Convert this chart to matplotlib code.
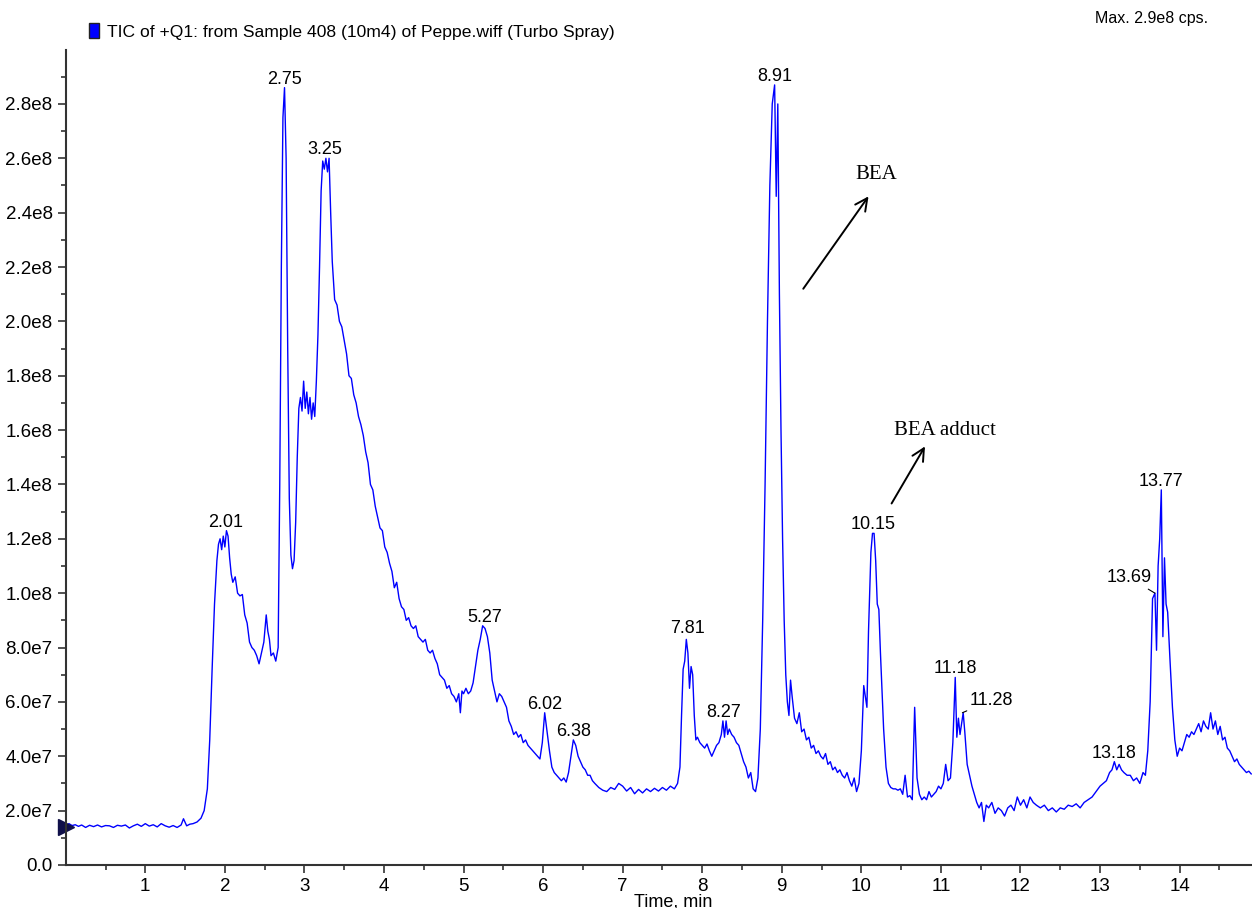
import matplotlib
matplotlib.use("Agg")
import matplotlib.pyplot as plt
from matplotlib.patches import Rectangle

# TIC trace, time in min, intensity in units of 1e7 cps
time_min = [
    0.00, 0.04, 0.08, 0.12, 0.16, 0.20, 0.25, 0.30, 0.35, 0.40, 0.45, 0.50,
    0.55, 0.60, 0.65, 0.70, 0.75, 0.80, 0.85, 0.90, 0.95, 1.00, 1.05, 1.10,
    1.15, 1.20, 1.25, 1.30, 1.35, 1.40, 1.45, 1.48, 1.52, 1.56, 1.60, 1.65,
    1.70, 1.74, 1.78, 1.81, 1.84, 1.87, 1.90, 1.92, 1.94, 1.96, 1.98, 2.00,
    2.02, 2.04, 2.06, 2.08, 2.10, 2.13, 2.16, 2.19, 2.22, 2.25, 2.28, 2.31,
    2.34, 2.37, 2.40, 2.43, 2.46, 2.49, 2.52, 2.54, 2.56, 2.58, 2.61, 2.64,
    2.67, 2.69, 2.71, 2.73, 2.75, 2.77, 2.79, 2.81, 2.83, 2.85, 2.87, 2.89,
    2.91, 2.93, 2.95, 2.97, 2.99, 3.01, 3.03, 3.05, 3.07, 3.09, 3.11, 3.13,
    3.15, 3.17, 3.19, 3.21, 3.23, 3.25, 3.27, 3.29, 3.31, 3.33, 3.35, 3.38,
    3.41, 3.44, 3.47, 3.50, 3.53, 3.56, 3.59, 3.62, 3.65, 3.68, 3.71, 3.74,
    3.77, 3.80, 3.83, 3.86, 3.89, 3.92, 3.95, 3.98, 4.01, 4.04, 4.07, 4.10,
    4.13, 4.16, 4.19, 4.22, 4.25, 4.28, 4.31, 4.34, 4.37, 4.40, 4.43, 4.46,
    4.49, 4.52, 4.55, 4.58, 4.61, 4.64, 4.67, 4.70, 4.73, 4.76, 4.79, 4.82,
    4.85, 4.88, 4.91, 4.94, 4.96, 4.98, 5.00, 5.03, 5.06, 5.09, 5.12, 5.15,
    5.18, 5.21, 5.24, 5.27, 5.30, 5.33, 5.36, 5.39, 5.42, 5.45, 5.48, 5.51,
    5.54, 5.57, 5.60, 5.63, 5.66, 5.69, 5.72, 5.75, 5.78, 5.81, 5.84, 5.87,
    5.90, 5.93, 5.96, 5.99, 6.02, 6.05, 6.08, 6.11, 6.14, 6.17, 6.20, 6.23,
    6.26, 6.29, 6.32, 6.35, 6.38, 6.41, 6.44, 6.47, 6.50, 6.53, 6.56, 6.59,
    6.62, 6.65, 6.70, 6.75, 6.80, 6.85, 6.90, 6.95, 7.00, 7.05, 7.10, 7.15,
    7.20, 7.25, 7.30, 7.35, 7.40, 7.45, 7.50, 7.55, 7.60, 7.65, 7.69, 7.72,
    7.74, 7.76, 7.78, 7.80, 7.82, 7.84, 7.86, 7.88, 7.90, 7.92, 7.94, 7.97,
    8.00, 8.03, 8.06, 8.09, 8.12, 8.15, 8.18, 8.21, 8.24, 8.26, 8.28, 8.30,
    8.32, 8.34, 8.37, 8.40, 8.43, 8.46, 8.49, 8.52, 8.55, 8.58, 8.61, 8.64,
    8.67, 8.70, 8.73, 8.76, 8.79, 8.82, 8.85, 8.88, 8.91, 8.93, 8.95, 8.97,
    8.99, 9.01, 9.03, 9.05, 9.07, 9.09, 9.11, 9.13, 9.16, 9.19, 9.22, 9.25,
    9.28, 9.31, 9.34, 9.37, 9.40, 9.43, 9.46, 9.49, 9.52, 9.55, 9.58, 9.61,
    9.64, 9.67, 9.70, 9.73, 9.76, 9.79, 9.82, 9.85, 9.88, 9.91, 9.94, 9.97,
    10.00, 10.03, 10.05, 10.07, 10.09, 10.12, 10.14, 10.16, 10.18, 10.20,
    10.22, 10.24, 10.26, 10.28, 10.31, 10.34, 10.37, 10.40, 10.43, 10.46,
    10.49, 10.52, 10.55, 10.58, 10.61, 10.64, 10.67, 10.70, 10.73, 10.76,
    10.79, 10.82, 10.85, 10.88, 10.91, 10.94, 10.97, 11.00, 11.03, 11.06,
    11.09, 11.12, 11.15, 11.18, 11.20, 11.22, 11.24, 11.26, 11.28, 11.30,
    11.33, 11.36, 11.39, 11.42, 11.45, 11.48, 11.51, 11.54, 11.57, 11.60,
    11.64, 11.68, 11.72, 11.76, 11.80, 11.84, 11.88, 11.92, 11.96, 12.00,
    12.04, 12.08, 12.12, 12.16, 12.20, 12.25, 12.30, 12.35, 12.40, 12.45,
    12.50, 12.55, 12.60, 12.65, 12.70, 12.75, 12.80, 12.85, 12.90, 12.95,
    13.00, 13.04, 13.08, 13.12, 13.15, 13.18, 13.21, 13.24, 13.27, 13.30,
    13.34, 13.38, 13.42, 13.46, 13.50, 13.54, 13.57, 13.60, 13.63, 13.66,
    13.69, 13.71, 13.73, 13.75, 13.77, 13.79, 13.81, 13.83, 13.85, 13.88,
    13.91, 13.94, 13.97, 14.00, 14.03, 14.06, 14.09, 14.12, 14.15, 14.18,
    14.21, 14.24, 14.27, 14.30, 14.33, 14.36, 14.39, 14.42, 14.45, 14.48,
    14.51, 14.54, 14.57, 14.60, 14.63, 14.66, 14.69, 14.72, 14.75, 14.78,
    14.81, 14.84, 14.87, 14.90,
]
intensity = [
    1.40, 1.52, 1.45, 1.48, 1.42, 1.47, 1.38, 1.46, 1.41, 1.47, 1.40, 1.45,
    1.44, 1.38, 1.46, 1.43, 1.47, 1.36, 1.44, 1.50, 1.42, 1.52, 1.43, 1.48,
    1.40, 1.52, 1.44, 1.39, 1.45, 1.38, 1.47, 1.70, 1.44, 1.50, 1.52, 1.58,
    1.72, 2.00, 2.80, 4.60, 7.20, 9.60, 11.2, 11.8, 12.0, 11.6, 12.1, 11.7,
    12.3, 12.1, 11.3, 10.7, 10.4, 10.6, 10.0, 9.90, 9.95, 9.20, 8.90, 8.20,
    8.00, 7.90, 7.70, 7.40, 7.80, 8.20, 9.20, 8.60, 8.30, 7.70, 7.80, 7.50,
    8.00, 14.0, 22.0, 27.5, 28.6, 26.0, 19.0, 13.5, 11.4, 10.9, 11.2, 12.6,
    15.0, 16.8, 17.2, 16.7, 17.8, 16.8, 17.4, 16.6, 17.2, 16.4, 17.0, 16.5,
    17.8, 19.5, 22.0, 24.8, 25.9, 25.6, 26.0, 25.5, 26.0, 24.0, 22.2, 20.8,
    20.6, 20.0, 19.8, 19.3, 18.8, 18.0, 17.9, 17.3, 17.0, 16.5, 16.2, 15.8,
    15.2, 14.8, 14.0, 13.8, 13.2, 12.8, 12.4, 12.3, 11.7, 11.5, 11.1, 10.8,
    10.2, 10.4, 9.80, 9.50, 9.40, 9.00, 9.10, 8.80, 8.70, 8.80, 8.40, 8.30,
    8.20, 8.30, 7.90, 7.80, 7.90, 7.60, 7.40, 7.00, 6.90, 6.80, 6.50, 6.60,
    6.30, 6.20, 6.00, 6.30, 5.60, 6.40, 6.30, 6.50, 6.30, 6.40, 6.70, 7.30,
    7.90, 8.30, 8.80, 8.70, 8.40, 7.80, 6.80, 6.40, 6.00, 6.30, 6.20, 6.00,
    5.80, 5.30, 5.10, 4.80, 4.90, 4.70, 4.80, 4.50, 4.60, 4.40, 4.30, 4.20,
    4.10, 4.00, 3.90, 4.50, 5.60, 4.90, 4.20, 3.60, 3.40, 3.30, 3.20, 3.10,
    3.20, 3.05, 3.40, 4.00, 4.60, 4.40, 4.00, 3.80, 3.60, 3.50, 3.30, 3.30,
    3.10, 3.00, 2.85, 2.75, 2.70, 2.85, 2.78, 3.00, 2.90, 2.72, 2.85, 2.62,
    2.78, 2.65, 2.80, 2.70, 2.82, 2.72, 2.85, 2.75, 2.90, 2.80, 3.00, 3.60,
    5.50, 7.20, 7.50, 8.30, 7.80, 6.50, 7.30, 7.00, 5.50, 4.60, 4.70, 4.50,
    4.40, 4.30, 4.45, 4.20, 4.00, 4.20, 4.40, 4.50, 4.80, 5.30, 4.70, 5.30,
    4.80, 5.00, 4.80, 4.70, 4.50, 4.40, 4.10, 3.80, 3.60, 3.20, 3.40, 2.80,
    2.70, 3.20, 5.00, 9.00, 14.0, 20.0, 25.0, 28.0, 28.7, 24.6, 28.0, 21.0,
    16.0, 12.0, 9.00, 7.00, 6.00, 5.50, 6.80, 6.20, 5.40, 5.20, 5.60, 4.90,
    5.00, 4.60, 4.70, 4.30, 4.40, 4.10, 4.20, 4.00, 3.90, 4.10, 3.70, 3.80,
    3.50, 3.60, 3.40, 3.50, 3.30, 3.20, 3.40, 3.10, 2.90, 3.20, 2.70, 3.00,
    4.20, 6.60, 6.20, 5.80, 8.60, 11.5, 12.2, 12.2, 11.2, 9.60,
    9.40, 7.80, 6.40, 5.00, 3.60, 3.00, 2.85, 2.80, 2.80, 2.75,
    2.80, 2.60, 3.30, 2.50, 2.55, 2.40, 5.80, 3.20, 2.60, 2.40,
    2.50, 2.40, 2.70, 2.50, 2.60, 2.70, 2.90, 2.80, 3.00, 3.70,
    3.10, 3.20, 4.50, 6.90, 4.70, 5.40, 4.80, 5.20, 5.60, 4.90,
    3.70, 3.30, 2.90, 2.60, 2.30, 2.10, 2.30, 1.60, 2.20, 2.10,
    2.30, 1.90, 2.10, 2.00, 1.80, 2.10, 2.20, 2.00, 2.50, 2.20,
    2.40, 2.10, 2.50, 2.30, 2.20, 2.10, 2.20, 2.00, 2.10, 1.95,
    2.10, 2.05, 2.20, 2.15, 2.25, 2.10, 2.30, 2.40, 2.50, 2.70,
    2.90, 3.00, 3.10, 3.40, 3.50, 3.80, 3.50, 3.70, 3.50, 3.40,
    3.30, 3.30, 3.10, 3.20, 3.00, 3.40, 3.30, 4.20, 6.00, 9.80,
    10.0, 7.90, 11.0, 12.0, 13.8, 8.40, 11.3, 9.60, 9.30, 7.50,
    5.80, 4.60, 4.00, 4.30, 4.20, 4.50, 4.80, 4.70, 4.90, 4.80,
    5.00, 5.20, 4.90, 5.30, 5.10, 5.00, 5.60, 5.00, 5.30, 4.80,
    5.10, 4.60, 4.70, 4.30, 4.20, 4.00, 3.80, 3.90, 3.70, 3.60,
    3.50, 3.40, 3.45, 3.35,
]
scale = 1e7

peak_labels = ["2.01", "2.75", "3.25", "5.27", "6.02", "6.38", "7.81", "8.27",
               "8.91", "10.15", "11.18", "13.18", "13.77"]
peak_tops = [12.3, 28.6, 26.0, 8.8, 5.6, 4.6, 8.4, 5.3, 28.7, 12.2, 6.9, 3.8, 13.8]

ytick_vals = [0, 2, 4, 6, 8, 10, 12, 14, 16, 18, 20, 22, 24, 26, 28]
ytick_labels = ["0.0", "2.0e7", "4.0e7", "6.0e7", "8.0e7", "1.0e8", "1.2e8", "1.4e8",
                "1.6e8", "1.8e8", "2.0e8", "2.2e8", "2.4e8", "2.6e8", "2.8e8"]
xtick_vals = list(range(1, 15))

plt.rcParams['font.family'] = ['Liberation Sans', 'DejaVu Sans']

fig = plt.figure(figsize=(12.52, 9.08), dpi=100)
ax = fig.add_axes([0.0525, 0.0474, 0.9475, 0.898])

ax.plot(time_min, [v * scale for v in intensity], color='#0000ff', lw=1.0)
ax.plot([time_min[0]], [intensity[0] * scale], marker='>', color='#10104a',
        markersize=11, clip_on=False)

ax.set_xlim(0, 14.91)
ax.set_ylim(0, 3.0e8)
ax.set_xticks(xtick_vals)
ax.set_xticks([x - 0.5 for x in xtick_vals] + [14.5], minor=True)
ax.set_yticks([v * scale for v in ytick_vals])
ax.set_yticklabels(ytick_labels)
ax.set_yticks([(v + 1) * scale for v in ytick_vals], minor=True)

for s in ['top', 'right']:
    ax.spines[s].set_visible(False)
for s in ['left', 'bottom']:
    ax.spines[s].set_linewidth(1.5)
    ax.spines[s].set_color('#333333')
ax.tick_params(which='major', direction='out', length=6, width=1.2,
               color='#333333', labelsize=13.5)
ax.tick_params(which='minor', direction='out', length=3.5, width=1.2, color='#333333')
ax.set_xlabel("Time, min", fontsize=13)
ax.xaxis.set_label_coords(0.512, -0.035)

for lab, top in zip(peak_labels, peak_tops):
    ax.text(float(lab), top * scale, lab, ha='center', va='bottom', fontsize=13)

# labels with leader lines
ax.annotate("13.69", xy=(13.69, 10.0 * scale), xytext=(13.655, 10.25 * scale),
            ha='right', va='bottom', fontsize=13,
            arrowprops=dict(arrowstyle='-', lw=0.8, color='black', shrinkA=0, shrinkB=0))
ax.annotate("11.28", xy=(11.27, 5.6 * scale), xytext=(11.36, 5.75 * scale),
            ha='left', va='bottom', fontsize=13,
            arrowprops=dict(arrowstyle='-', lw=0.8, color='black', shrinkA=0, shrinkB=0))

# compound arrows
ax.annotate("", xy=(10.09, 24.6 * scale), xytext=(9.27, 21.2 * scale),
            arrowprops=dict(arrowstyle='->', lw=1.4, color='black',
                            mutation_scale=22, shrinkA=0, shrinkB=0))
ax.text(9.93, 25.4 * scale, "BEA", family='Liberation Serif', fontsize=15,
        ha='left', va='center')
ax.annotate("", xy=(10.80, 15.4 * scale), xytext=(10.38, 13.3 * scale),
            arrowprops=dict(arrowstyle='->', lw=1.4, color='black',
                            mutation_scale=22, shrinkA=0, shrinkB=0))
ax.text(10.41, 16.0 * scale, "BEA adduct", family='Liberation Serif', fontsize=15,
        ha='left', va='center')

# header
fig.patches.append(Rectangle((89 / 1252, 1 - 38 / 908), 10 / 1252, 15 / 908,
                             transform=fig.transFigure, facecolor='#0000ff',
                             edgecolor='#222222', lw=1.0))
fig.text(107 / 1252, 1 - 32 / 908,
         "TIC of +Q1: from Sample 408 (10m4) of Peppe.wiff (Turbo Spray)",
         fontsize=12.6, va='center', ha='left')
fig.text(1208 / 1252, 1 - 18 / 908, "Max. 2.9e8 cps.", fontsize=11.5,
         va='center', ha='right')

fig.savefig("out.png", dpi=100)
